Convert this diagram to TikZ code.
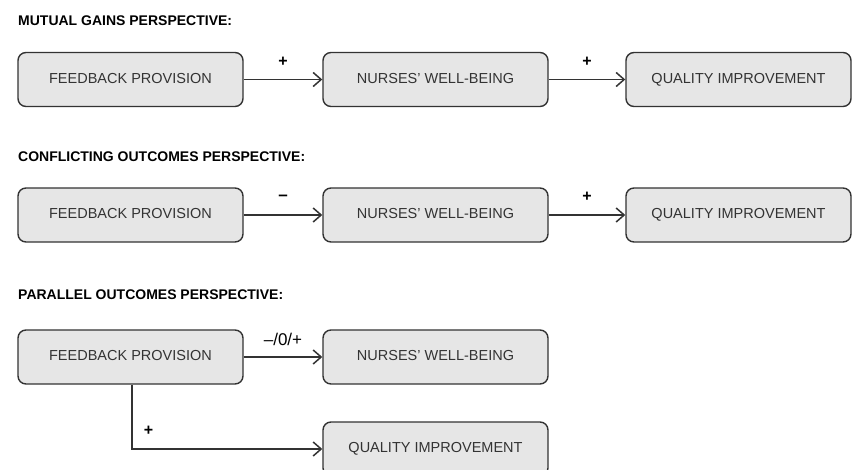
\documentclass[tikz,border=0pt]{standalone}
\usepackage{fontspec}
\setmainfont{Liberation Sans}
\usetikzlibrary{arrows.meta, positioning}
\definecolor{boxfill}{HTML}{E6E6E6}
\definecolor{boxline}{HTML}{333333}
\tikzset{
    stage/.style={
        rectangle, rounded corners=8pt, draw=boxline, line width=1.4pt,
        minimum width=225pt, minimum height=54pt,
        text height=1.38ex, text depth=0pt,
        fill=boxfill, text=boxline, font=\fontsize{14.5}{17}\selectfont
    },
    heading/.style={
        anchor=west, inner sep=0pt, font=\fontsize{14}{16}\selectfont\bfseries
    },
    link/.style={draw=boxline, line width=1.5pt, -{Straight Barb[length=8pt, width=14pt, line width=1.5pt]}},
    sign/.style={font=\fontsize{16}{18}\selectfont\bfseries, yshift=18pt}
}

\begin{document}
\begin{tikzpicture}[x=1pt, y=-1pt]
\useasboundingbox (0,0) rectangle (857,469);

% mutual gains
\node[heading] (hmg) at (18,21) {MUTUAL GAINS PERSPECTIVE:};
\node[stage] (mgfb) at (130.5,79.5) {FEEDBACK PROVISION};
\node[stage] (mgwb) at (435.5,79.5) {NURSES' WELL-BEING};
\node[stage] (mgqi) at (738.5,79.5) {QUALITY IMPROVEMENT};
\draw[link] (mgfb) -- node[sign] {+} (mgwb);
\draw[link] (mgwb) -- node[sign] {+} (mgqi);

% conflicting outcomes
\node[heading] (hco) at (18,157) {CONFLICTING OUTCOMES PERSPECTIVE:};
\node[stage] (cofb) at (130.5,215) {FEEDBACK PROVISION};
\node[stage] (cowb) at (435.5,215) {NURSES' WELL-BEING};
\node[stage] (coqi) at (738.5,215) {QUALITY IMPROVEMENT};
\draw[link] (cofb) -- node[sign, yshift=-1pt, font=\fontsize{17}{19}\selectfont\bfseries] {--} (cowb);
\draw[link] (cowb) -- node[sign] {+} (coqi);

% parallel outcomes
\node[heading] (hpo) at (18,295) {PARALLEL OUTCOMES PERSPECTIVE:};
\node[stage] (pofb) at (130.5,357) {FEEDBACK PROVISION};
\node[stage] (powb) at (435.5,357) {NURSES' WELL-BEING};
\node[stage] (poqi) at (435.5,449) {QUALITY IMPROVEMENT};
\draw[link] (pofb) -- node[sign, font=\fontsize{17}{19}\selectfont] {--/0/+} (powb);
\draw[link] ([xshift=1.5pt]pofb.south) |- node[pos=0.52, sign, xshift=9pt] {+} (poqi.west);

\end{tikzpicture}
\end{document}
